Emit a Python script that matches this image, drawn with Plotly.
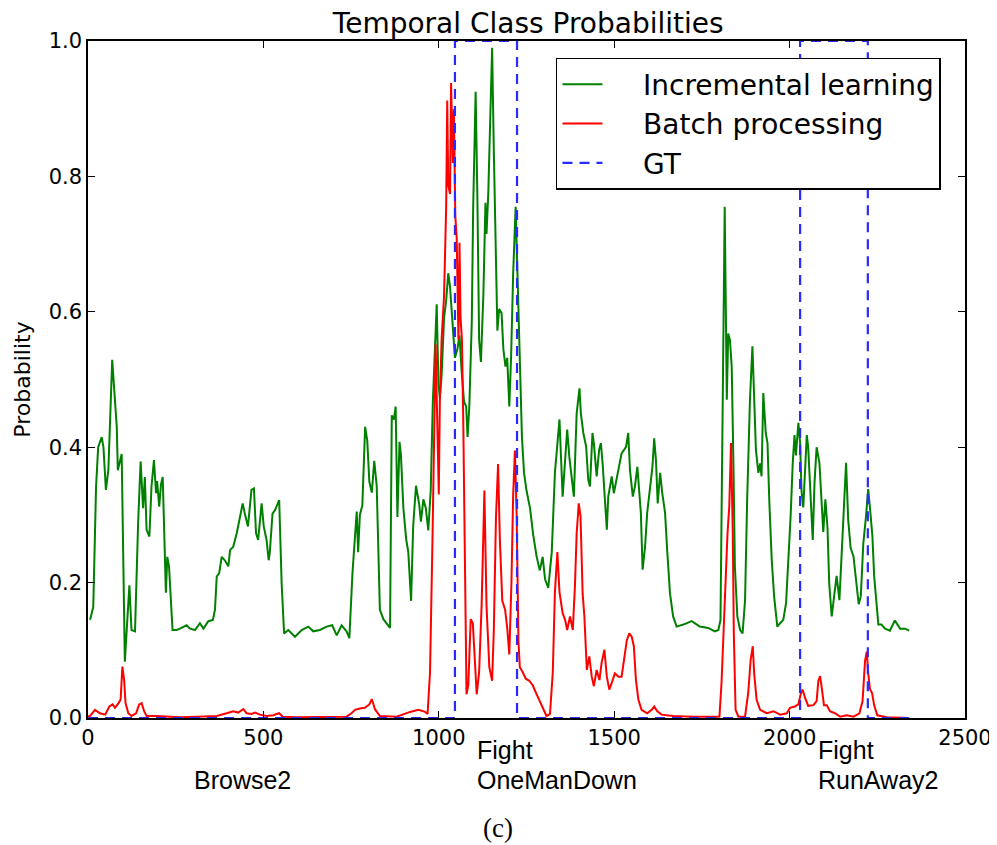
import plotly.graph_objects as go

# ---- data ----
inc_x = [6, 15, 23, 29, 39, 44, 51, 58, 69, 74, 82, 85, 93, 96, 105, 110, 118, 124, 134, 143, 150, 157, 162, 167, 175, 181, 188, 194, 197, 203, 208, 213, 219, 222, 226, 231, 241, 253, 262, 281, 291, 305, 319, 329, 343, 356, 362, 367, 374, 381, 390, 400, 405, 414, 424, 431, 441, 447, 452, 456, 466, 473, 479, 485, 495, 501, 509, 515, 518, 526, 533, 540, 545, 552, 559, 571, 590, 609, 628, 642, 661, 680, 696, 709, 723, 737, 745,
         754, 761, 766, 770, 775, 782, 790, 796, 802, 809, 816, 823, 828, 832, 842, 861, 866, 872, 877, 882, 888, 892, 899, 907, 913, 921, 927, 935, 944, 949, 956, 963, 970, 977, 983, 989, 994, 999, 1003, 1008, 1015, 1021, 1027, 1032, 1040, 1046, 1053, 1059, 1065, 1072, 1078, 1082, 1087, 1094, 1098, 1105, 1110, 1115, 1120, 1127, 1133, 1136, 1141, 1146, 1152, 1157, 1162, 1167, 1172, 1179, 1184, 1190, 1195, 1201, 1206, 1212, 1219, 1225, 1231, 1237, 1243, 1250, 1260, 1269, 1279, 1288, 1296, 1303, 1312, 1322, 1331, 1338, 1344,
         1353, 1360, 1366, 1372, 1379, 1385, 1393, 1401, 1405, 1412, 1420, 1426, 1431, 1438, 1442, 1450, 1457, 1462, 1467, 1474, 1479, 1483, 1488, 1493, 1499, 1507, 1515, 1521, 1528, 1534, 1540, 1545, 1553, 1559, 1566, 1572, 1576, 1581, 1588, 1594, 1602, 1609, 1614, 1619, 1624, 1631, 1637, 1645, 1651, 1659, 1668, 1678, 1697, 1721, 1744, 1768, 1787, 1797, 1803, 1808, 1815, 1821, 1825, 1830, 1835, 1840, 1844, 1851, 1859, 1866, 1873, 1879, 1887, 1894, 1898, 1904, 1911, 1916, 1920, 1925, 1932, 1937, 1942, 1949, 1956, 1965, 1973, 1982,
         1990, 1996, 2003, 2009, 2014, 2018, 2025, 2030, 2034, 2039, 2044, 2049, 2053, 2060, 2066, 2071, 2077, 2085, 2091, 2096, 2102, 2108, 2113, 2120, 2127, 2134, 2142, 2148, 2155, 2161, 2167, 2174, 2182, 2189, 2197, 2203, 2210, 2218, 2224, 2229, 2236, 2241, 2248, 2253, 2262, 2272, 2286, 2300, 2315, 2329, 2341]
inc_y = [.145, .164, .342, .40, .415, .40, .337, .366, .529, .49, .43, .366, .386, .39, .083, .125, .196, .13, .128, .29, .379, .31, .356, .278, .268, .342, .381, .332, .35, .312, .345, .356, .238, .185, .238, .224, .13, .13, .132, .137, .132, .13, .14, .132, .143, .145, .16, .209, .214, .238, .233, .224, .248, .253, .273, .292, .317, .302, .292, .283, .337, .339, .273, .263, .317, .283, .263, .233, .243, .302, .307, .317, .322, .199, .125, .13, .12, .13, .135, .128, .13, .135, .137, .122, .137, .128, .118,
         .215, .27, .305, .245, .30, .314, .43, .41, .349, .333, .38, .343, .245, .16, .146, .133, .447, .441, .46, .297, .408, .389, .31, .264, .245, .173, .284, .343, .316, .29, .323, .31, .277, .336, .467, .545, .611, .493, .473, .506, .591, .617, .657, .637, .572, .532, .545, .565, .513, .467, .46, .415, .46, .585, .755, .925, .768, .558, .526, .624, .761, .715, .774, .886, .99, .833, .689, .572, .604, .598, .545, .519, .532, .46, .532, .657, .755, .65, .519, .415, .362, .336, .31, .271, .238, .218, .238, .205, .192, .245, .362, .401, .441,
         .327, .376, .426, .386, .357, .327, .45, .487, .45, .421, .401, .352, .342, .421, .406, .357, .396, .406, .376, .322, .278, .327, .342, .357, .332, .352, .371, .391, .396, .401, .421, .366, .327, .342, .371, .332, .303, .219, .253, .303, .337, .371, .413, .381, .317, .362, .332, .303, .248, .184, .15, .135, .138, .143, .135, .133, .128, .13, .145, .371, .755, .47, .568, .558, .519, .371, .224, .15, .13, .125, .174, .322, .47, .549, .494, .396, .362, .376, .357, .48, .421, .406, .322, .234, .179, .135, .14, .145,
         .17, .228, .299, .377, .418, .388, .436, .406, .335, .311, .377, .418, .40, .323, .263, .347, .40, .377, .317, .275, .323, .281, .198, .15, .18, .21, .174, .233, .317, .377, .293, .251, .239, .21, .168, .18, .257, .299, .338, .311, .269, .21, .174, .138, .138, .132, .129, .144, .132, .132, .129]

batch_x = [0, 6, 20, 34, 49, 61, 70, 77, 87, 93, 98, 103, 107, 115, 124, 137, 146, 153, 160, 167, 196, 224, 262, 310, 338, 367, 395, 414, 428, 443, 452, 466, 476, 490, 509, 528, 545, 555, 595, 690, 737, 751, 761, 775, 789, 802, 809, 818, 832, 880, 918, 942, 961, 968, 975, 982, 987, 991, 996, 1000, 1003, 1008, 1015, 1021, 1024, 1027, 1032, 1035, 1040, 1043, 1047, 1051, 1056, 1059, 1062, 1066, 1070, 1075, 1079, 1084, 1091, 1097, 1101, 1108, 1115, 1122, 1130, 1136, 1144, 1152, 1157, 1163, 1169, 1174, 1181, 1189, 1195, 1201, 1207, 1212, 1217, 1222, 1227, 1231, 1239, 1248, 1258, 1268, 1279, 1293, 1307, 1317, 1325, 1331, 1338, 1344,
           1353, 1360, 1366, 1374, 1382, 1388, 1393, 1399, 1404, 1410, 1415, 1422, 1429, 1436, 1442, 1450, 1458, 1464, 1472, 1479, 1486, 1493, 1502, 1512, 1521, 1528, 1536, 1543, 1550, 1556, 1562, 1569, 1578, 1594, 1607, 1614, 1623, 1635, 1668, 1726, 1800, 1806, 1816, 1823, 1828, 1833, 1838, 1841, 1846, 1854, 1873, 1882, 1889, 1895, 1899, 1906, 1916, 1935, 1954, 1973, 1992, 2001, 2015, 2025, 2032, 2037, 2044, 2053, 2068, 2077, 2082, 2087, 2092, 2098, 2106, 2115, 2129, 2144, 2163, 2182, 2199, 2208, 2215, 2220, 2224, 2229, 2235, 2241, 2250, 2277, 2341]
batch_y = [.002, .003, .012, .007, .005, .017, .02, .015, .022, .027, .076, .056, .022, .007, .003, .007, .02, .022, .01, .003, .003, .002, .001, .002, .003, .003, .007, .01, .008, .013, .007, .006, .008, .005, .003, .004, .007, .002, .001, .001, .002, .007, .012, .014, .015, .02, .028, .013, .003, .002, .009, .012, .009, .006, .068, .264, .415, .552, .428, .33, .467, .559, .624, .755, .912, .787, .774, .938, .82, .899, .742, .709, .559, .702, .591, .559, .428, .232, .035, .048, .146, .14, .101, .035, .068, .166, .336, .166, .075, .055, .133, .297, .375, .264, .173, .16, .133, .094, .199, .33, .395, .297, .114, .075, .068, .058, .055, .048, .035, .019, .003, .006, .068, .186, .245, .186,
           .155, .145, .13, .15, .13, .194, .273, .317, .298, .184, .15, .071, .091, .061, .047, .071, .056, .081, .101, .061, .042, .052, .066, .061, .061, .086, .115, .125, .12, .106, .056, .027, .012, .007, .012, .017, .01, .005, .003, .002, .002, .052, .199, .273, .312, .406, .273, .125, .012, .002, .002, .037, .086, .106, .066, .027, .012, .007, .01, .005, .007, .015, .017, .02, .036, .042, .03, .018, .019, .025, .055, .062, .043, .019, .019, .01, .007, .002, .004, .002, .007, .025, .084, .098, .067, .043, .037, .019, .004, .001, 0.0]

gt_x = [0, 1046, 1046, 1223, 1223, 2030, 2030, 2223, 2223, 2341]
gt_y = [0, 0, 1, 1, 0, 0, 1, 1, 0, 0]

x_ticks = [0, 500, 1000, 1500, 2000, 2500]
y_ticks = [0.0, 0.2, 0.4, 0.6, 0.8, 1.0]

series_names = ["Incremental learning", "Batch processing", "GT"]

# labels under the axis: (text, x data position of left edge, row)
below_labels = [("Fight", 1103, 0), ("OneManDown", 1103, 1), ("Browse2", 296, 1),
                ("Fight", 2075, 0), ("RunAway2", 2075, 1)]

pad = "\u00a0\u00a0\u00a0\u00a0"

fig = go.Figure()
fig.add_trace(go.Scatter(x=inc_x, y=inc_y, mode="lines", name=pad + series_names[0],
                         line=dict(color="#008000", width=2), legendgroup="a"))
fig.add_trace(go.Scatter(x=batch_x, y=batch_y, mode="lines", name=pad + series_names[1],
                         line=dict(color="#ff0000", width=2), legendgroup="b"))
fig.add_trace(go.Scatter(x=gt_x, y=gt_y, mode="lines", name=pad + series_names[2],
                         line=dict(color="#2a2aff", width=2.2, dash="10px,7px"), legendgroup="c"))

ann = []
row_y = [-0.047, -0.092]
for txt, xv, row in below_labels:
    ann.append(dict(text=txt, x=xv, xref="x", y=row_y[row], yref="paper",
                    xanchor="left", yanchor="middle", showarrow=False,
                    font=dict(family="Liberation Sans", size=25, color="black")))
ann.append(dict(text="(c)", x=0.4675, xref="paper", y=-0.1625, yref="paper",
                xanchor="center", yanchor="middle", showarrow=False,
                font=dict(family="Liberation Serif", size=27, color="black")))

axis_common = dict(showline=True, linecolor="black", linewidth=1.5, mirror="ticks",
                   ticks="inside", ticklen=7, tickcolor="black", tickwidth=1.2,
                   showgrid=False, zeroline=False, automargin=False,
                   tickfont=dict(family="DejaVu Sans", size=21, color="black"))

# the page body adds an 8px offset, so the figure is 8px smaller and margins shifted
fig.update_layout(
    width=989, height=837,
    margin=dict(l=80, r=32, t=33, b=127),
    paper_bgcolor="white", plot_bgcolor="white",
    title=dict(text="Temporal Class Probabilities", x=0.526, xanchor="center",
               y=0.982, yanchor="middle", yref="container",
               font=dict(family="DejaVu Sans", size=28, color="black")),
    xaxis=dict(range=[0, 2500], tickvals=x_ticks, **axis_common),
    yaxis=dict(range=[0, 1], tickvals=y_ticks, tickformat=".1f",
               title=dict(text="Probability", standoff=12,
                          font=dict(family="DejaVu Sans", size=22, color="black")),
               **axis_common),
    legend=dict(x=0.5336, y=0.975, xanchor="left", yanchor="top",
                bordercolor="black", borderwidth=1.5, bgcolor="white",
                font=dict(family="DejaVu Sans", size=28, color="black"),
                tracegroupgap=0, itemwidth=40),
    annotations=ann,
    showlegend=True,
)

fig.write_html("out.html")
